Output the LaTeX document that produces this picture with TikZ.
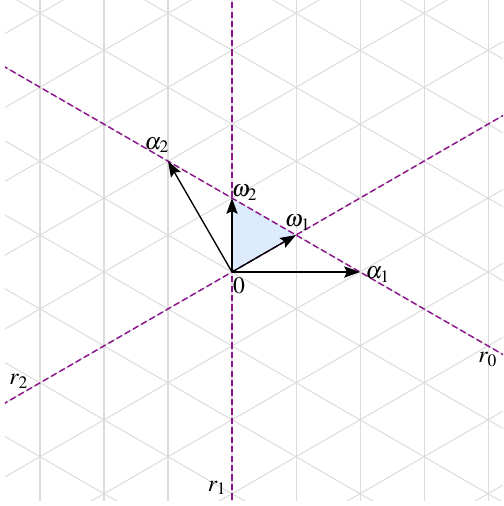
\documentclass[tikz,border=0pt]{standalone}
\usepackage{mathptmx}
\usetikzlibrary{arrows.meta}
\definecolor{gridgray}{RGB}{220,220,220}
\definecolor{mirror}{RGB}{140,20,140}
\definecolor{alcove}{RGB}{221,236,252}
\begin{document}
\begin{tikzpicture}[x=1cm,y=1cm,
  gridline/.style={draw=gridgray,line width=0.45pt},
  mirrorline/.style={draw=mirror,line width=0.65pt,dash pattern=on 2.8pt off 1.4pt},
  vec/.style={draw=black,line width=0.6pt,-{Stealth[length=7pt,width=5pt,inset=1.2pt]}},
  lab/.style={inner sep=0pt,font=\fontsize{10.5}{12}\selectfont}]
\useasboundingbox (-3.625,-3.65625) rectangle (4.234375,4.25);
\begin{scope}
\clip (-3.547,-3.5625) rectangle (4.234375,4.25);
% triangular grid
\foreach \k in {-5,...,5} \draw[gridline] (\k,-4) -- (\k,5);
\foreach \k in {-9,...,9} {
  \draw[gridline] (-5,{(2*\k-5)/sqrt(3)}) -- (5,{(2*\k+5)/sqrt(3)});
  \draw[gridline] (-5,{(2*\k+5)/sqrt(3)}) -- (5,{(2*\k-5)/sqrt(3)});
}
% coordinates
\coordinate (O) at (0,0);
\coordinate (a1) at (2,0);
\coordinate (a2) at (-1,{sqrt(3)});
\coordinate (w1) at (1,{1/sqrt(3)});
\coordinate (w2) at (0,{2/sqrt(3)});
% fundamental alcove
\fill[alcove] (O) -- (w1) -- (w2) -- cycle;
% mirror lines
\draw[mirrorline] (0,-4) -- (0,5);
\draw[mirrorline] (-5,{-5/sqrt(3)}) -- (5,{5/sqrt(3)});
\draw[mirrorline] (-5,{7/sqrt(3)}) -- (5,{-3/sqrt(3)});
\end{scope}
% vectors
\draw[vec] (O) -- (a1);
\draw[vec] (O) -- (a2);
\draw[vec] (O) -- (w1);
\draw[vec] (O) -- (w2);
% labels
\node[lab] (la1) at (2.28,-0.04) {$\alpha_1$};
\node[lab] (la2) at (-1.17,1.98) {$\alpha_2$};
\node[lab] (lw1) at (1.03,0.77) {$\omega_1$};
\node[lab] (lw2) at (0.2,1.24) {$\omega_2$};
\node[lab] (l0) at (0.11,-0.21) {$0$};
\node[lab] (lr0) at (4.0,-1.37) {$r_0$};
\node[lab] (lr1) at (-0.23,-3.37) {$r_1$};
\node[lab] (lr2) at (-3.33,-1.71) {$r_2$};
\end{tikzpicture}
\end{document}
